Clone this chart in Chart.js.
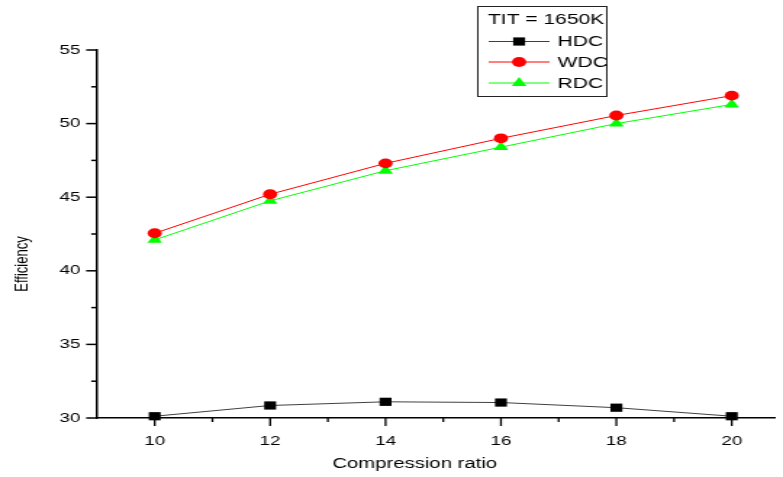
<!DOCTYPE html>
<html><head><meta charset="utf-8">
<script src="https://cdn.jsdelivr.net/npm/chart.js@4.4.1/dist/chart.umd.min.js"></script>
<style>
html,body{margin:0;padding:0;overflow:hidden;background:#fff;width:783px;height:477px}
#wrap{position:absolute;left:0;top:0;width:540px;height:477px;transform:scaleX(1.45);transform-origin:0 0}
canvas{display:block}
</style></head><body>
<div id="wrap"><canvas id="c" width="540" height="477"></canvas></div>
<script>
const compressionRatio = [10, 12, 14, 16, 18, 20];
const hdc = [30.12, 30.85, 31.1, 31.05, 30.7, 30.12];
const wdc = [42.55, 45.2, 47.3, 49.0, 50.55, 51.9];
const rdc = [42.1, 44.75, 46.8, 48.4, 50.0, 51.3];
const xTickLabels = [10, 12, 14, 16, 18, 20];
const xMinorTicks = [11, 13, 15, 17, 19];
const yTickLabels = [30, 35, 40, 45, 50, 55];
const yMinorTicks = [32.5, 37.5, 42.5, 47.5, 52.5];
const seriesNames = ['HDC', 'WDC', 'RDC'];
const legendTitle = 'TIT = 1650K';
const xTitle = 'Compression ratio';
const yTitle = 'Efficiency';

const FONT = "'Liberation Sans', Arial, Helvetica, sans-serif";
const pts = arr => compressionRatio.map((x, i) => ({x: x, y: arr[i]}));

const decor = {
  id: 'decor',
  afterDraw(chart) {
    const ctx = chart.ctx, xs = chart.scales.x, ys = chart.scales.y;
    ctx.save();
    ctx.strokeStyle = '#000';
    ctx.lineWidth = 1.3;
    const yb = ys.bottom;
    const xt = (v, len) => { const p = xs.getPixelForValue(v); ctx.beginPath(); ctx.moveTo(p, yb); ctx.lineTo(p, yb + len); ctx.stroke(); };
    xTickLabels.forEach(v => xt(v, 8));
    xMinorTicks.forEach(v => xt(v, 4));
    ctx.lineWidth = 1.5;
    const xl = xs.left;
    const yt = (v, len) => { const p = ys.getPixelForValue(v); ctx.beginPath(); ctx.moveTo(xl, p); ctx.lineTo(xl - len, p); ctx.stroke(); };
    yTickLabels.forEach(v => yt(v, 7.5));
    yMinorTicks.forEach(v => yt(v, 4));

    ctx.fillStyle = '#000';
    ctx.textAlign = 'center';
    ctx.textBaseline = 'middle';
    // x axis title
    ctx.font = '14px ' + FONT;
    ctx.fillText(xTitle, 286, 464);
    // y axis title
    ctx.save();
    ctx.translate(15, 264);
    ctx.rotate(-Math.PI / 2);
    ctx.font = '13px ' + FONT;
    ctx.fillText(yTitle, 0, 0);
    ctx.restore();

    // legend box
    const bx = 329, by = 6, bw = 89, bh = 90;
    ctx.fillStyle = '#fff';
    ctx.fillRect(bx, by, bw, bh);
    ctx.strokeStyle = '#222';
    ctx.lineWidth = 1;
    ctx.strokeRect(bx + 0.5, by + 0.5, bw, bh);
    ctx.fillStyle = '#000';
    ctx.font = '14.5px ' + FONT;
    ctx.textAlign = 'left';
    ctx.fillText(legendTitle, 336.5, 20);
    const rowsY = [41.5, 62, 83];
    chart.data.datasets.forEach((ds, i) => {
      const y = rowsY[i];
      ctx.strokeStyle = ds.borderColor;
      ctx.lineWidth = 1;
      ctx.beginPath(); ctx.moveTo(337, y); ctx.lineTo(379, y); ctx.stroke();
      ctx.fillStyle = ds.pointBackgroundColor;
      Chart.helpers.drawPoint(ctx, {pointStyle: ds.pointStyle, radius: ds.pointRadius, rotation: 0, borderWidth: 0}, 358, y);
      ctx.fillStyle = '#000';
      ctx.font = '14.5px ' + FONT;
      ctx.fillText(ds.label, 384.5, y + 0.5);
    });
    ctx.restore();
  }
};

new Chart(document.getElementById('c'), {
  type: 'line',
  data: {
    datasets: [
      {label: seriesNames[0], data: pts(hdc), borderColor: '#404040', borderWidth: 1, pointStyle: 'rect', pointRadius: 5.8,
       pointBackgroundColor: '#000', pointBorderWidth: 0, tension: 0, clip: false},
      {label: seriesNames[1], data: pts(wdc), borderColor: '#ff0000', borderWidth: 1, pointStyle: 'circle', pointRadius: 4.9,
       pointBackgroundColor: '#ff0000', pointBorderWidth: 0, tension: 0, clip: false},
      {label: seriesNames[2], data: pts(rdc), borderColor: '#00ff00', borderWidth: 1, pointStyle: 'triangle', pointRadius: 5.9,
       pointBackgroundColor: '#00ff00', pointBorderWidth: 0, tension: 0, clip: false}
    ]
  },
  options: {
    responsive: false,
    animation: false,
    layout: {padding: {top: 50, right: 0, left: 0, bottom: 0}},
    plugins: {legend: {display: false}, tooltip: {enabled: false}},
    scales: {
      x: {
        type: 'linear', min: 9, max: 20.74,
        afterBuildTicks(s) { s.ticks = xTickLabels.map(v => ({value: v})); },
        afterFit(s) { s.height = 59; },
        grid: {display: false},
        border: {display: true, color: '#000', width: 1.5},
        ticks: {color: '#000', font: {family: FONT, size: 13}, padding: 8, maxRotation: 0, autoSkip: false}
      },
      y: {
        type: 'linear', min: 30, max: 55,
        afterBuildTicks(s) { s.ticks = yTickLabels.map(v => ({value: v})); },
        afterFit(s) { s.width = 66.9; },
        grid: {display: false},
        border: {display: true, color: '#000', width: 1.5},
        ticks: {color: '#000', font: {family: FONT, size: 13}, padding: 3.5, autoSkip: false}
      }
    }
  },
  plugins: [decor]
});
</script>
</body></html>
